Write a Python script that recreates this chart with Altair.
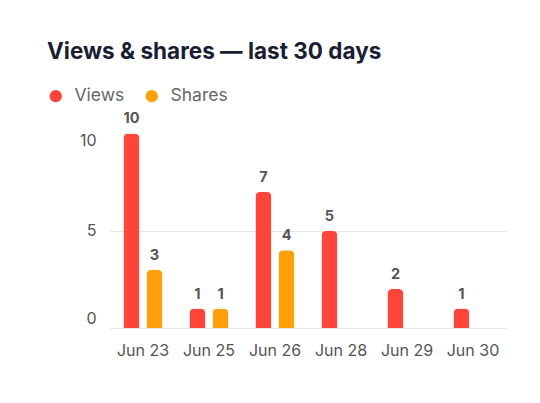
import altair as alt
import pandas as pd

dates = ["Jun 23", "Jun 25", "Jun 26", "Jun 28", "Jun 29", "Jun 30"]
views = [10, 1, 7, 5, 2, 1]
shares = [3, 1, 4, 0, 0, 0]
series = ["Views", "Shares"]
colors = ["#FF4539", "#FF9F0A"]

rows = []
for d, v, s in zip(dates, views, shares):
    rows.append({"date": d, "series": "Views", "value": v})
    rows.append({"date": d, "series": "Shares", "value": s})
df = pd.DataFrame(rows)

FONT = "Inter"

x = alt.X("date:N", sort=dates, title=None,
          scale=alt.Scale(paddingInner=0.3, paddingOuter=0.15),
          axis=alt.Axis(labelAngle=0, domain=False, ticks=False, labelPadding=14,
                        labelFontSize=16, labelColor="#555555", labelFont=FONT))
xo = alt.XOffset("series:N", sort=series, scale=alt.Scale(domain=series, paddingInner=0, paddingOuter=0))
y = alt.Y("value:Q", title=None,
          scale=alt.Scale(domain=[0, 11], nice=False),
          axis=alt.Axis(values=[0, 5, 10], domain=False, ticks=False, labelPadding=14,
                        labelFontSize=16, labelColor="#555555", labelFont=FONT,
                        labelOffset=alt.ExprRef("datum.value == 10 ? 7 : datum.value == 0 ? -10 : 0"),
                        gridColor="#e6e6e6",
                        gridOpacity=alt.ExprRef("datum.value == 10 ? 0 : 1")))
color = alt.Color("series:N", sort=series,
                  scale=alt.Scale(domain=series, range=colors),
                  legend=alt.Legend(title=None, orient="none", direction="horizontal",
                                    legendX=-63, legendY=-27, symbolType="circle",
                                    symbolSize=150, symbolStrokeWidth=0, symbolOpacity=1,
                                    labelFontSize=17.5, labelColor="#666666", labelFont=FONT,
                                    labelOffset=10, columnPadding=18))

base = alt.Chart(df).transform_filter("datum.value > 0")

bars = base.mark_bar(size=16, cornerRadiusEnd=5).encode(x=x, xOffset=xo, y=y, color=color)
labels = base.mark_text(baseline="bottom", dy=-7, fontSize=14.5, fontWeight="bold",
                        color="#555555", font=FONT).encode(
    x=x, xOffset=xo, y=y, text="value:Q")

chart = (bars + labels).properties(
    width=396, height=214,
    title=alt.TitleParams("Views & shares — last 30 days", anchor="start", frame="group",
                          dx=-63, offset=24, fontSize=22.5, fontWeight="bold",
                          color="#1b1d33", font=FONT),
    autosize=alt.AutoSizeParams(type="none"),
    padding={"left": 110, "top": 114, "right": 34, "bottom": 75},
    background="#ffffff",
).configure_view(stroke=None)

chart.save("out.html", embed_options={"renderer": "svg", "actions": False})
